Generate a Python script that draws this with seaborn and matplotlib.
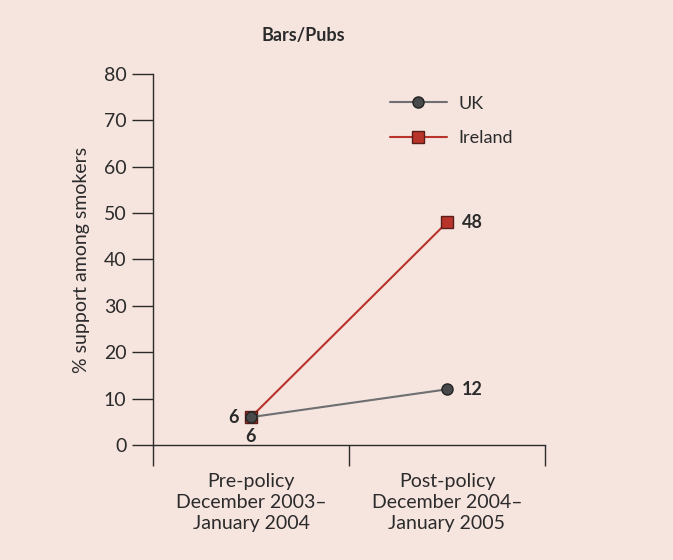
import pandas as pd
import numpy as np
import matplotlib.pyplot as plt
import seaborn as sns

# data
periods = ['Pre-policy\nDecember 2003\u2013\nJanuary 2004',
           'Post-policy\nDecember 2004\u2013\nJanuary 2005']
uk = [6, 12]
ireland = [6, 48]
series_names = ['UK', 'Ireland']

bg = '#f6e4df'
uk_line = '#6e6f71'
uk_marker = '#48494b'
ie_line = '#b8342b'
ie_edge = '#5a1d18'
ink = '#2b2b2b'

sns.set_theme(style='white')
plt.rcParams['font.family'] = ['Lato', 'DejaVu Sans']

df = pd.DataFrame({
    'x': np.tile(np.arange(len(periods)) + 0.5, 2),
    'value': uk + ireland,
    'country': np.repeat(series_names, len(periods)),
})

fig = plt.figure(figsize=(6.73, 5.6), dpi=100, facecolor=bg)
ax = fig.add_axes([0.2273, 0.2054, 0.5825, 0.6625])
ax.set_facecolor(bg)

# Ireland first so the UK circle sits on top at the shared start point
sns.lineplot(data=df[df.country == 'Ireland'], x='x', y='value', ax=ax,
             color=ie_line, lw=1.5, marker='s', markersize=9,
             markerfacecolor=ie_line, markeredgecolor=ie_edge, markeredgewidth=1,
             label='Ireland', zorder=3)
sns.lineplot(data=df[df.country == 'UK'], x='x', y='value', ax=ax,
             color=uk_line, lw=1.5, marker='o', markersize=8,
             markerfacecolor=uk_marker, markeredgecolor='#222222', markeredgewidth=1,
             label='UK', zorder=4)

ax.set_xlim(0, 2)
ax.set_ylim(0, 80)
ax.set_yticks(range(0, 81, 10))
ax.set_xticks([0, 1, 2])
ax.set_xticklabels([])
ax.set_xticks([0.5, 1.5], minor=True)
ax.set_xticklabels(periods, minor=True, fontsize=14, color=ink, linespacing=1.3)
ax.tick_params(axis='x', which='major', direction='out', length=15, width=1, color=ink)
ax.tick_params(axis='x', which='minor', length=0, pad=20)
ax.tick_params(axis='y', direction='out', length=15, width=1, color=ink,
               labelsize=14, labelcolor=ink, pad=4)
ax.tick_params(left=True, bottom=True)

for side in ['top', 'right']:
    ax.spines[side].set_visible(False)
for side in ['left', 'bottom']:
    ax.spines[side].set_color(ink)
    ax.spines[side].set_linewidth(1)

ax.set_xlabel('')
ax.set_ylabel('% support among smokers', fontsize=14, color=ink, labelpad=10)

# value labels
lab = dict(fontsize=13, fontweight='bold', color=ink, textcoords='offset points')
ax.annotate(str(ireland[1]), (1.5, ireland[1]), xytext=(11, 0), ha='left', va='center', **lab)
ax.annotate(str(uk[1]), (1.5, uk[1]), xytext=(11, 0), ha='left', va='center', **lab)
ax.annotate(str(ireland[0]), (0.5, ireland[0]), xytext=(-9, 0), ha='right', va='center', **lab)
ax.annotate(str(uk[0]), (0.5, uk[0]), xytext=(0, -14), ha='center', va='center', **lab)

handles, labels = ax.get_legend_handles_labels()
order = [labels.index(n) for n in series_names]
ax.legend([handles[i] for i in order], [labels[i] for i in order],
          loc='upper left', bbox_to_anchor=(0.562, 0.985), frameon=False,
          fontsize=13, handlelength=3.2, labelspacing=1.0, handletextpad=0.6,
          labelcolor=ink)

fig.text(0.45, 0.937, 'Bars/Pubs', ha='center', va='center',
         fontsize=13, fontweight='bold', color=ink)

fig.savefig('out.png', dpi=100, facecolor=bg)
